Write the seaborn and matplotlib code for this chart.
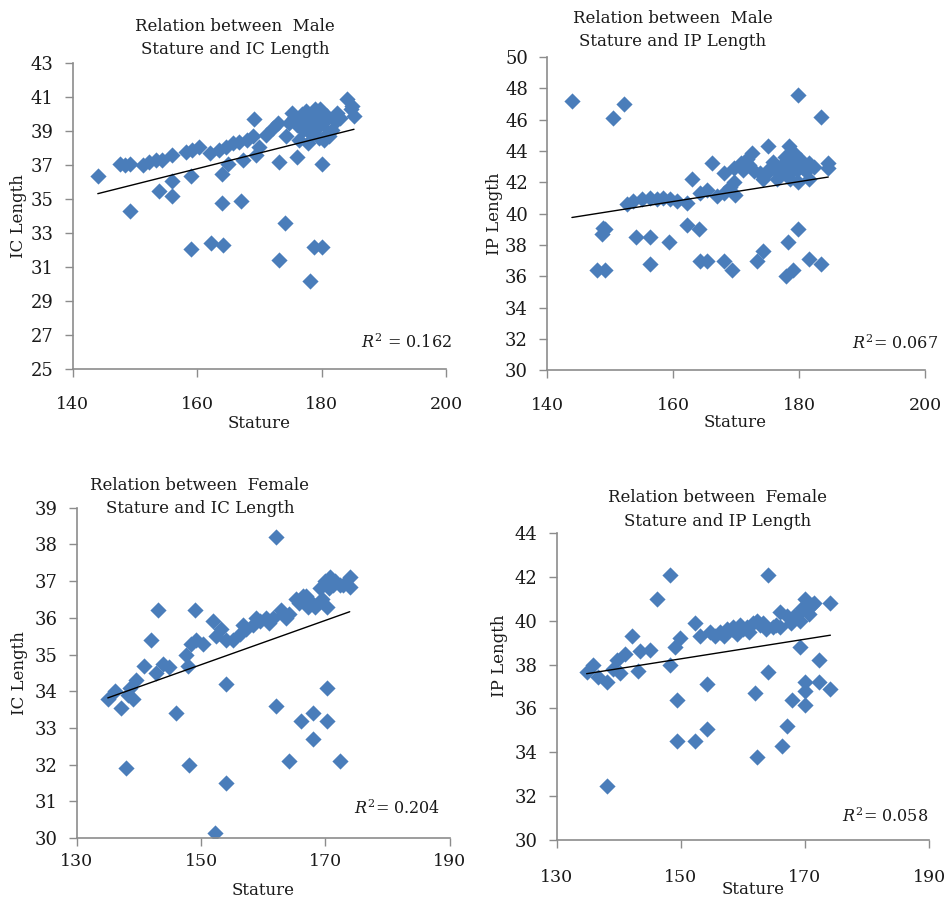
import numpy as np
import pandas as pd
import matplotlib
matplotlib.use("Agg")
import matplotlib.pyplot as plt
import seaborn as sns

# Male stature vs IC length
male_ic_stature = [144, 147.5, 148.3, 149.2, 149.2, 151.2, 152.3, 153.4, 154.4, 153.9,
                   156, 156, 156, 158.2, 159.1, 160.2, 159, 159, 162, 162.2,
                   164, 164, 164.2, 163.5, 164.6, 165.7, 166.7, 164.9, 167, 167.3,
                   168, 168.9, 169.1, 169.4, 169.9, 171, 172.1, 172.9, 173.2, 173.2,
                   174.1, 174.2, 174.8, 175.3, 176.1, 176.1, 176.4, 177, 177.5, 178,
                   178.5, 179, 179.5, 179.7, 178.2, 178.8, 180.1, 180, 178.5, 179.5,
                   180.4, 181.2, 181.7, 182.3, 182.5, 184.1, 184.7, 185.2, 184.9, 177.8,
                   175.5, 176.8, 177.3, 178.3, 179.2, 180.2, 180.8, 177.5, 181.0, 183.0]
male_ic_length = [36.4, 37.1, 37.0, 37.1, 34.3, 37.0, 37.2, 37.3, 37.3, 35.5,
                  37.6, 36.1, 35.2, 37.8, 37.9, 38.1, 36.4, 32.1, 37.7, 32.4,
                  36.5, 34.8, 32.3, 37.9, 38.1, 38.3, 38.4, 37.1, 34.9, 37.3,
                  38.5, 38.7, 39.7, 37.6, 38.1, 38.8, 39.2, 39.5, 37.2, 31.4,
                  33.6, 38.7, 39.5, 40.1, 39.4, 37.5, 38.5, 39.1, 39.6, 39.9,
                  40.1, 40.3, 39.8, 40.3, 30.2, 32.2, 32.2, 37.1, 38.8, 38.6,
                  38.5, 38.7, 39.1, 39.6, 40.1, 40.9, 40.3, 39.9, 40.5, 38.3,
                  39.8, 40.0, 39.3, 39.5, 39.2, 39.5, 39.9, 40.2, 38.9, 39.8]

# Male stature vs IP length
male_ip_stature = [143.9, 150.4, 152.1, 147.9, 149.2, 148.9, 149.2, 148.7, 152.6, 153.6,
                   154.0, 155.0, 156.3, 157.4, 158.4, 159.5, 160.6, 156.3, 156.3, 159.3,
                   162.2, 162.2, 163.0, 164.0, 164.3, 165.3, 164.3, 165.3, 166.1, 166.9,
                   168.0, 169.0, 169.6, 168.0, 169.3, 169.8, 168.0, 169.6, 170.7, 171.7,
                   172.5, 172.8, 173.8, 174.3, 174.8, 175.3, 173.3, 174.3, 175.0, 176.2,
                   177.2, 178.2, 178.7, 178.2, 177.9, 179.0, 179.8, 179.8, 178.3, 179.1,
                   178.8, 179.6, 178.5, 179.8, 180.6, 181.6, 181.6, 181.6, 183.5, 183.5,
                   184.6, 184.6, 177.0, 176.5, 171.0, 172.0, 176.0, 177.8, 178.6, 180.3,
                   181.0, 182.3, 176.8, 175.8]
male_ip_length = [47.2, 46.1, 47.0, 36.4, 36.4, 39.1, 39.0, 38.7, 40.6, 40.8,
                  38.5, 40.9, 41.0, 40.9, 41.0, 40.9, 40.8, 38.5, 36.8, 38.2,
                  40.7, 39.3, 42.2, 39.0, 37.0, 37.0, 41.3, 41.5, 43.2, 41.1,
                  41.3, 41.7, 42.0, 37.0, 36.4, 41.2, 42.6, 42.9, 43.2, 43.5,
                  43.9, 42.7, 42.6, 42.2, 42.6, 42.9, 37.0, 37.6, 44.3, 42.9,
                  43.1, 42.9, 43.3, 38.2, 36.0, 36.4, 39.0, 47.6, 44.3, 43.9,
                  43.0, 42.8, 42.2, 42.0, 42.9, 43.2, 42.2, 37.1, 36.8, 46.2,
                  43.2, 42.9, 42.5, 42.2, 42.8, 43.1, 43.0, 43.6, 42.6, 43.4,
                  42.7, 43.0, 42.6, 43.3]

# Female stature vs IC length
female_ic_stature = [135.0, 136.1, 137.1, 138.2, 139.0, 139.6, 137.9, 138.5, 140.9, 142.0,
                     143.1, 142.8, 143.9, 144.9, 146.0, 147.6, 148.4, 149.2, 150.3, 147.9,
                     148.1, 149.1, 151.9, 152.2, 152.4, 153.2, 154.0, 154.0, 154.0, 155.1,
                     156.2, 157.2, 158.3, 159.4, 160.4, 161.5, 162.0, 162.0, 164.1, 163.2,
                     164.2, 165.3, 166.4, 166.1, 167.2, 168.3, 168.0, 168.0, 169.1, 169.9,
                     170.7, 171.2, 170.2, 170.2, 170.2, 172.3, 172.3, 173.9, 173.9,
                     156.8, 158.8, 160.9, 162.8, 165.8, 167.8, 169.5, 171.6, 170.5, 172.8,
                     163.7, 166.8]
female_ic_length = [33.8, 34.0, 33.55, 33.9, 33.8, 34.3, 31.9, 34.1, 34.7, 35.4,
                    36.2, 34.5, 34.75, 34.66, 33.4, 35.0, 35.3, 35.4, 35.3, 34.7,
                    32.0, 36.2, 35.9, 30.15, 35.5, 35.7, 35.4, 34.2, 31.5, 35.4,
                    35.55, 35.7, 35.8, 35.9, 36.0, 36.0, 38.2, 33.6, 32.1, 36.1,
                    36.1, 36.5, 36.6, 33.2, 36.3, 36.3, 33.4, 32.7, 36.8, 37.0,
                    37.1, 36.9, 36.3, 34.1, 33.2, 36.9, 32.1, 37.1, 36.85,
                    35.8, 36.0, 35.85, 36.2, 36.4, 36.4, 36.5, 37.0, 36.8, 36.9,
                    36.0, 36.6]

# Female stature vs IP length
female_ip_stature = [134.8, 135.9, 136.7, 138.1, 138.1, 139.1, 139.7, 140.2, 141.0, 142.1,
                     143.1, 143.4, 145.0, 146.2, 148.2, 148.3, 149.1, 149.4, 149.4, 149.9,
                     152.3, 152.3, 153.1, 154.2, 154.2, 154.7, 156.3, 157.4, 158.4, 159.5,
                     160.6, 161.6, 162.7, 163.8, 164.8, 165.9, 162.0, 162.2, 164.1, 164.1,
                     166.0, 166.3, 167.1, 167.9, 167.1, 168.2, 169.2, 169.2, 170.0, 170.3,
                     171.1, 170.0, 170.0, 170.0, 172.2, 172.2, 174.1, 174.1,
                     155.5, 157.0, 159.0, 160.0, 161.0, 162.3, 163.2, 165.3, 167.8, 168.8,
                     170.6, 171.5, 169.6, 158.2]
female_ip_length = [37.67, 37.98, 37.44, 37.2, 32.47, 37.8, 38.2, 37.6, 38.5, 39.3,
                    37.7, 38.6, 38.65, 41.0, 42.1, 38.0, 38.8, 36.4, 34.5, 39.2,
                    39.9, 34.5, 39.3, 37.1, 35.05, 39.5, 39.5, 39.6, 39.7, 39.8,
                    39.7, 39.9, 39.8, 39.6, 39.7, 39.7, 36.7, 33.8, 42.07, 37.64,
                    40.4, 34.3, 35.2, 36.4, 40.2, 40.2, 38.8, 40.0, 41.0, 40.6,
                    40.7, 36.8, 36.15, 37.2, 38.2, 37.2, 40.8, 36.9,
                    39.3, 39.3, 39.4, 39.6, 39.5, 40.0, 39.9, 39.8, 39.9, 40.3,
                    40.3, 40.8, 40.6, 39.6]

titles = ["Relation between  Male\nStature and IC Length",
          "Relation between  Male\nStature and IP Length",
          "Relation between  Female\nStature and IC Length",
          "Relation between  Female\nStature and IP Length"]
r2_labels = [r"$R^2$ = 0.162", r"$R^2$= 0.067", r"$R^2$= 0.204", r"$R^2$= 0.058"]

sns.set_theme(style="white")
plt.rcParams["font.family"] = ["DejaVu Serif"]
plt.rcParams["mathtext.fontset"] = "dejavuserif"

fig = plt.figure(figsize=(9.47, 9.05), dpi=100)

BLUE = "#4a7dba"
GREY = "#8c8c8c"
TEXT = "#1a1a1a"

panels = [
    dict(x=male_ic_stature, y=male_ic_length, rect=[0.077, 0.592, 0.394, 0.338],
         xlim=(140, 200), ylim=(25, 43), ystep=2, ylabel="IC Length", xpad=13.5,
         tpos=(0.434, 1.083), rpos=(1.016, 0.088), ylx=-0.147, yly=0.5, xly=-0.176, xlx=0.5),
    dict(x=male_ip_stature, y=male_ip_length, rect=[0.578, 0.591, 0.399, 0.346],
         xlim=(140, 200), ylim=(30, 50), ystep=2, ylabel="IP Length", xpad=13.5,
         tpos=(0.331, 1.086), rpos=(1.034, 0.086), ylx=-0.14, yly=0.5, xly=-0.166, xlx=0.497),
    dict(x=female_ic_stature, y=female_ic_length, rect=[0.081, 0.074, 0.394, 0.365],
         xlim=(130, 190), ylim=(30, 39), ystep=1, ylabel="IC Length", xpad=4.5,
         tpos=(0.33, 1.032), rpos=(0.973, 0.088), ylx=-0.153, yly=0.5, xly=-0.158, xlx=0.5),
    dict(x=female_ip_stature, y=female_ip_length, rect=[0.588, 0.072, 0.393, 0.339],
         xlim=(130, 190), ylim=(30, 44), ystep=2, ylabel="IP Length", xpad=15,
         tpos=(0.433, 1.077), rpos=(0.997, 0.075), ylx=-0.153, yly=0.6, xly=-0.163, xlx=0.527),
]

for p, title, r2 in zip(panels, titles, r2_labels):
    ax = fig.add_axes(p["rect"])
    df = pd.DataFrame({"Stature": p["x"], "Length": p["y"]})
    sns.scatterplot(data=df, x="Stature", y="Length", marker="D", s=68,
                    color=BLUE, linewidth=0, ax=ax, zorder=2)
    # linear trend line fitted to the points
    sns.regplot(data=df, x="Stature", y="Length", scatter=False, ci=None,
                color="black", line_kws={"linewidth": 1.0}, ax=ax)

    ax.set_xlim(*p["xlim"])
    ax.set_ylim(*p["ylim"])
    ax.set_xticks(np.arange(p["xlim"][0], p["xlim"][1] + 1, 20))
    ax.set_yticks(np.arange(p["ylim"][0], p["ylim"][1] + 0.1, p["ystep"]))

    for side in ["top", "right"]:
        ax.spines[side].set_visible(False)
    for side in ["left", "bottom"]:
        ax.spines[side].set_color(GREY)
        ax.spines[side].set_linewidth(1.2)

    ax.tick_params(axis="x", direction="out", length=6, width=1, color=GREY,
                   pad=p["xpad"], labelsize=12.5, labelcolor=TEXT, bottom=True)
    ax.tick_params(axis="y", direction="out", length=6, width=1, color=GREY,
                   pad=8, labelsize=13, labelcolor=TEXT, left=True)

    ax.set_xlabel("Stature", fontsize=12, color=TEXT)
    ax.set_ylabel(p["ylabel"], fontsize=12, color=TEXT)
    ax.xaxis.label.set_va("center")
    ax.yaxis.label.set_va("center")
    ax.xaxis.set_label_coords(p["xlx"], p["xly"])
    ax.yaxis.set_label_coords(p["ylx"], p["yly"])

    ax.text(p["tpos"][0], p["tpos"][1], title, transform=ax.transAxes,
            ha="center", va="center", fontsize=12, linespacing=1.5, color=TEXT)
    ax.text(p["rpos"][0], p["rpos"][1], r2, transform=ax.transAxes,
            ha="right", va="center", fontsize=11.5, color=TEXT)

fig.savefig("out.png", dpi=100, facecolor="white")
